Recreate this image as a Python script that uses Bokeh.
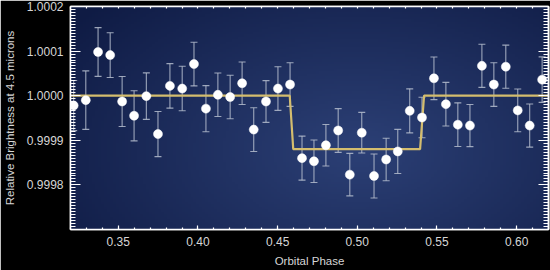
import numpy as np
from bokeh.plotting import figure
from bokeh.models import (ColumnDataSource, Range1d, LinearAxis, FixedTicker,
                          PrintfTickFormatter, Whisker, TeeHead)
from bokeh.embed import file_html
from bokeh.resources import INLINE

# ---- data ----
phase = [0.3220, 0.3296, 0.3373, 0.3449, 0.3524, 0.3599, 0.3676, 0.3749, 0.3824, 0.3901,
         0.3975, 0.4050, 0.4125, 0.4202, 0.4277, 0.4350, 0.4427, 0.4502, 0.4578, 0.4653,
         0.4728, 0.4803, 0.4880, 0.4953, 0.5028, 0.5105, 0.5181, 0.5254, 0.5329, 0.5406,
         0.5481, 0.5556, 0.5631, 0.5707, 0.5782, 0.5857, 0.5932, 0.6007, 0.6082, 0.6160]
brightness = [0.999978, 0.999990, 1.000098, 1.000091, 0.999987, 0.999955, 0.999999, 0.999914,
              1.000022, 1.000016, 1.000071, 0.999971, 1.000002, 0.999997, 1.000028, 0.999924,
              0.999987, 1.000016, 1.000025, 0.999860, 0.999853, 0.999889, 0.999922, 0.999823,
              0.999917, 0.999820, 0.999857, 0.999875, 0.999966, 0.999951, 1.000039, 0.999981,
              0.999935, 0.999933, 1.000067, 1.000025, 1.000065, 0.999967, 0.999933, 1.000036]
error = [0.0000562, 0.0000656, 0.0000546, 0.0000501, 0.0000562, 0.0000562, 0.0000521, 0.0000506,
         0.0000499, 0.0000499, 0.0000490, 0.0000517, 0.0000488, 0.0000488, 0.0000476, 0.0000490,
         0.0000467, 0.0000488, 0.0000490, 0.0000494, 0.0000476, 0.0000465, 0.0000490, 0.0000476,
         0.0000456, 0.0000494, 0.0000476, 0.0000494, 0.0000494, 0.0000454, 0.0000479, 0.0000488,
         0.0000490, 0.0000472, 0.0000483, 0.0000490, 0.0000483, 0.0000479, 0.0000483, 0.0000510]
model_phase = [0.3200, 0.4576, 0.4598, 0.5394, 0.5419, 0.6200]
model_level = [1.0000, 1.0000, 0.99988, 0.99988, 1.0000, 1.0000]

x_label = "Orbital Phase"
y_label = "Relative Brightness at 4.5 microns"
x_ticks = [0.35, 0.40, 0.45, 0.50, 0.55, 0.60]
y_ticks = [0.9998, 0.9999, 1.0000, 1.0001, 1.0002]
x_start, x_end = 0.32, 0.62
y_start, y_end = 0.9997, 1.0002

# tick-mark positions (styling only)
x_minor = [round(v, 4) for v in np.arange(0.32, 0.6201, 0.01)]
y_minor = [v for v in np.linspace(0.9997, 1.0002, 76)]

# ---- figure ----
p = figure(width=550, height=270, x_range=Range1d(x_start, x_end), y_range=Range1d(y_start, y_end),
           output_backend="svg", toolbar_location=None,
           min_border_left=69, min_border_right=2, min_border_top=6, min_border_bottom=41)
p.background_fill_color = "#1c2b5c"
p.border_fill_color = "black"
p.outline_line_color = "white"
p.outline_line_width = 1.5
p.grid.visible = False

# background radial gradient (decoration)
ny, nx = 90, 160
yy, xx = np.mgrid[0:ny, 0:nx]
cx, cy = 0.60 * nx, 0.35 * ny
r = np.sqrt(((xx - cx) / nx) ** 2 + ((yy - cy) / ny) ** 2 * 0.6)
t = np.clip(r / 0.75, 0, 1)
inner = np.array([44, 64, 118])
outer = np.array([15, 27, 68])
img = np.empty((ny, nx), dtype=np.uint32)
view = img.view(dtype=np.uint8).reshape((ny, nx, 4))
for k in range(3):
    view[:, :, k] = (inner[k] * (1 - t) + outer[k] * t).astype(np.uint8)
view[:, :, 3] = 255
p.image_rgba(image=[img], x=x_start, y=y_start, dw=x_end - x_start, dh=y_end - y_start, level="image")

src = ColumnDataSource(dict(
    x=phase, y=brightness,
    upper=[b + e for b, e in zip(brightness, error)],
    lower=[b - e for b, e in zip(brightness, error)],
))

bar_color = "#b4bccd"
w = Whisker(source=src, base="x", upper="upper", lower="lower", dimension="height",
            line_color=bar_color, line_width=1.1, line_alpha=0.85,
            upper_head=TeeHead(size=7, line_color=bar_color, line_width=1.1, line_alpha=0.85),
            lower_head=TeeHead(size=7, line_color=bar_color, line_width=1.1, line_alpha=0.85))
p.add_layout(w)

p.line(model_phase, model_level, line_color="#d4bd6e", line_width=2.2)
p.scatter("x", "y", source=src, size=9, fill_color="white", line_color="white", line_width=0.5)

# ---- axes ----
font = "Liberation Sans"
text_col = "#d6d6d6"

def ticks_style(ax, major_in, minor_in):
    ax.axis_line_color = "white"
    ax.axis_line_width = 1.5
    ax.major_tick_line_color = "white"
    ax.minor_tick_line_color = "white"
    ax.major_tick_in = major_in
    ax.major_tick_out = 0
    ax.minor_tick_in = minor_in
    ax.minor_tick_out = 0
    ax.major_tick_line_width = 1.2
    ax.minor_tick_line_width = 1.2

def label_style(ax):
    ax.major_label_text_color = text_col
    ax.major_label_text_font = font
    ax.major_label_text_font_size = "12px"
    ax.axis_label_text_color = text_col
    ax.axis_label_text_font = font
    ax.axis_label_text_font_size = "11.5px"
    ax.axis_label_text_font_style = "normal"

xa = p.xaxis[0]
xa.ticker = FixedTicker(ticks=x_ticks, minor_ticks=x_minor)
xa.formatter = PrintfTickFormatter(format="%.2f")
xa.axis_label = x_label
xa.major_label_standoff = 7
xa.axis_label_standoff = 6
ticks_style(xa, 4, 2)
label_style(xa)

ya = p.yaxis[0]
ya.ticker = FixedTicker(ticks=y_ticks, minor_ticks=y_minor)
ya.formatter = PrintfTickFormatter(format="%.4f")
ya.axis_label = y_label
ya.major_label_standoff = 7
ya.axis_label_standoff = 8
ticks_style(ya, 10, 5)
label_style(ya)

# label-free tick axes on top and right: only "minor" ticks, two layers for long/short
def bare_axis(positions, length):
    ax = LinearAxis(ticker=FixedTicker(ticks=[], minor_ticks=positions))
    ticks_style(ax, 0, length)
    ax.major_label_standoff = 0
    ax.axis_label = None
    return ax

p.add_layout(bare_axis(x_minor, 2), "above")
p.add_layout(bare_axis(y_minor, 5), "right")
p.add_layout(bare_axis(y_ticks, 10), "right")

open("out.html", "w").write(file_html(p, INLINE))
